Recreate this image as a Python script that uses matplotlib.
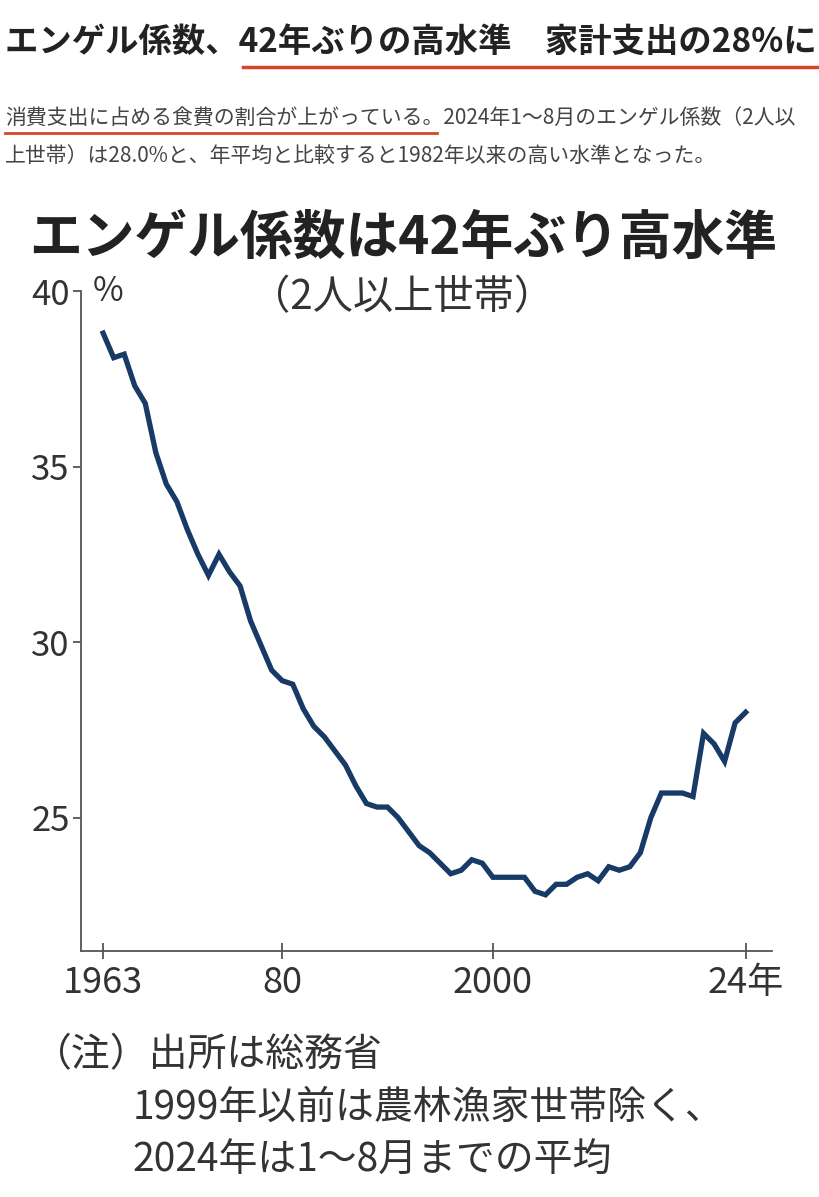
import matplotlib.pyplot as plt

plt.rcParams['font.family'] = 'Noto Sans CJK JP'

years = list(range(1963, 2025))
engel = [38.8, 38.1, 38.2, 37.3, 36.8, 35.4, 34.5, 34.0, 33.2, 32.5,
         31.9, 32.5, 32.0, 31.6, 30.6, 29.9, 29.2, 28.9, 28.8, 28.1,
         27.6, 27.3, 26.9, 26.5, 25.9, 25.4, 25.3, 25.3, 25.0, 24.6,
         24.2, 24.0, 23.7, 23.4, 23.5, 23.8, 23.7, 23.3, 23.3, 23.3,
         23.3, 22.9, 22.8, 23.1, 23.1, 23.3, 23.4, 23.2, 23.6, 23.5,
         23.6, 24.0, 25.0, 25.7, 25.7, 25.7, 25.6, 27.4, 27.1, 26.6,
         27.7, 28.0]
x_ticks = [1963, 1980, 2000, 2024]
x_labels = ['1963', '80', '2000', '24年']
y_ticks = [25, 30, 35, 40]

fig = plt.figure(figsize=(8.2, 11.97), dpi=100)

# header
fig.text(0.006, 1 - 42 / 1197, 'エンゲル係数、42年ぶりの高水準　家計支出の28%に',
         fontsize=24, fontweight='bold', color='#222222', va='center')
fig.add_artist(plt.Line2D([243 / 820, 818 / 820], [1 - 67 / 1197] * 2,
                          color='#d9452b', lw=2.5))
fig.text(0.006, 1 - 119 / 1197,
         '消費支出に占める食費の割合が上がっている。2024年1～8月のエンゲル係数（2人以',
         fontsize=15, color='#444444', va='center')
fig.text(0.006, 1 - 156 / 1197,
         '上世帯）は28.0%と、年平均と比較すると1982年以来の高い水準となった。',
         fontsize=15, color='#444444', va='center')
fig.add_artist(plt.Line2D([5 / 820, 437 / 820], [1 - 133 / 1197] * 2,
                          color='#d9452b', lw=2))

fig.text(0.036, 1 - 238 / 1197, 'エンゲル係数は42年ぶり高水準',
         fontsize=38, fontweight='bold', color='#222222', va='center')
fig.text(0.305, 1 - 298 / 1197, '（2人以上世帯）', fontsize=29,
         color='#333333', va='center')

ax = fig.add_axes([81 / 820, 246 / 1197, 691 / 820, 660 / 1197])
ax.plot(years, engel, color='#173a66', lw=3.8, solid_joinstyle='miter')
ax.set_xlim(1960.9, 2026.5)
ax.set_ylim(21.2, 40)
ax.set_xticks(x_ticks)
ax.set_xticklabels(x_labels)
ax.set_yticks(y_ticks)
for s in ['top', 'right']:
    ax.spines[s].set_visible(False)
for s in ['left', 'bottom']:
    ax.spines[s].set_color('#555555')
    ax.spines[s].set_linewidth(1.3)
ax.tick_params(axis='x', direction='inout', length=12, width=1.3,
               color='#555555', labelsize=26, labelcolor='#333333', pad=4)
ax.tick_params(axis='y', direction='out', length=6, width=1.3,
               color='#555555', labelsize=25, labelcolor='#333333', pad=2)
ax.text(1962.0, 40, '%', fontsize=24, color='#333333', va='center')

notes = ['（注）出所は総務省', '1999年以前は農林漁家世帯除く、', '2024年は1～8月までの平均']
note_x = [0.04, 0.162, 0.162]
for i, t in enumerate(notes):
    fig.text(note_x[i], 1 - (1055 + 53 * i) / 1197, t, fontsize=28,
             color='#333333', va='center')

fig.savefig('out.png', dpi=100, facecolor='white')
